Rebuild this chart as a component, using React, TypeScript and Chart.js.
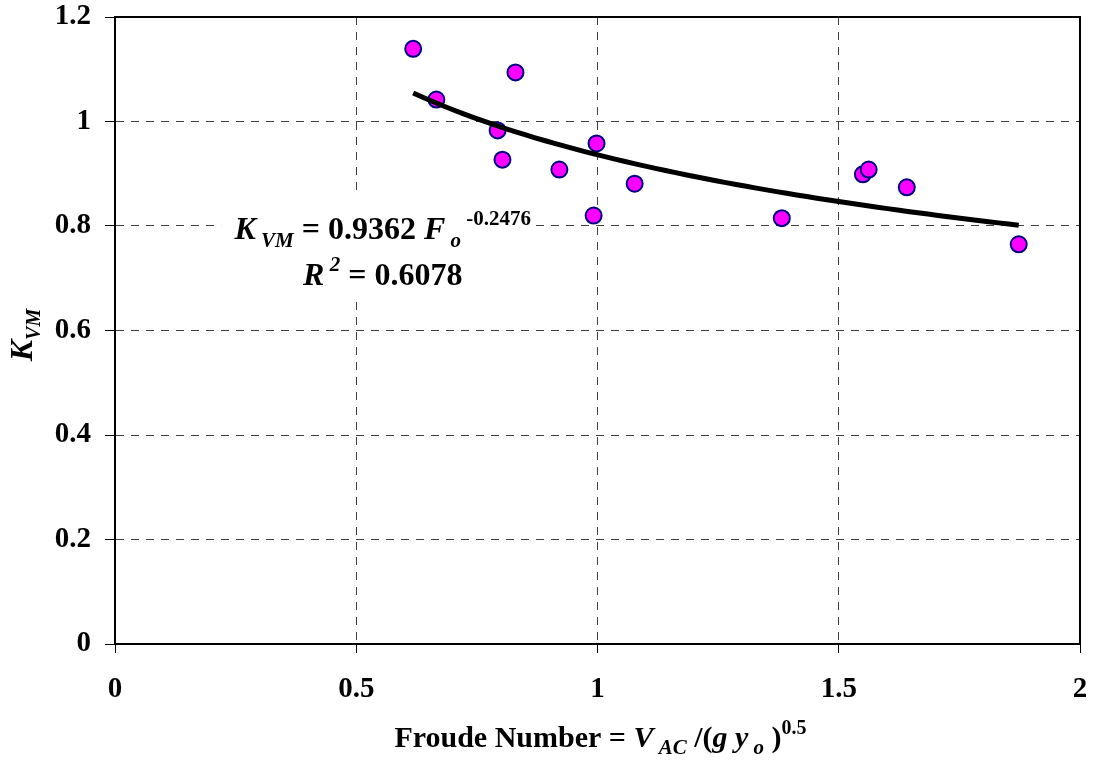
import React, { useEffect, useRef } from 'react';
import { Chart, registerables } from 'chart.js';

Chart.register(...registerables);

// ---- data ----
const froudeNumber = [0.618, 0.666, 0.793, 0.803, 0.830, 0.921, 0.998, 0.992, 1.077, 1.382, 1.550, 1.562, 1.641, 1.873];
const kvmValues = [1.139, 1.042, 0.983, 0.927, 1.094, 0.908, 0.958, 0.820, 0.881, 0.815, 0.899, 0.908, 0.874, 0.765];
const xTickValues = [0, 0.5, 1, 1.5, 2];
const yTickValues = [0, 0.2, 0.4, 0.6, 0.8, 1, 1.2];
const trendCoefficient = 0.9362;
const trendExponent = -0.2476;
const rSquared = 0.6078;

type Run = { t: string; size: number; italic?: boolean; dy?: number };
const FAMILY = '"Liberation Serif", "Times New Roman", serif';
const fontOf = (r: Run) => `${r.italic ? 'italic ' : ''}bold ${r.size}px ${FAMILY}`;

function drawRuns(ctx: CanvasRenderingContext2D, runs: Run[], cx: number, baseline: number) {
  const widths = runs.map((r) => {
    ctx.font = fontOf(r);
    return ctx.measureText(r.t).width;
  });
  const total = widths.reduce((a, b) => a + b, 0);
  let x = cx - total / 2;
  ctx.textAlign = 'left';
  ctx.textBaseline = 'alphabetic';
  ctx.fillStyle = '#000';
  runs.forEach((r, i) => {
    ctx.font = fontOf(r);
    ctx.fillText(r.t, x, baseline + (r.dy || 0));
    x += widths[i];
  });
}

const decorPlugin = {
  id: 'decor',
  beforeDatasetsDraw(chart: any) {
    const { ctx } = chart;
    const xs = chart.scales.x;
    const ys = chart.scales.y;
    // white box behind the trendline equation
    ctx.save();
    ctx.fillStyle = '#fff';
    const l = xs.getPixelForValue(0.22);
    const r = xs.getPixelForValue(0.865);
    const t = ys.getPixelForValue(0.86);
    const b = ys.getPixelForValue(0.66);
    ctx.fillRect(l, t, r - l, b - t);
    ctx.restore();
  },
  afterDraw(chart: any) {
    const { ctx, chartArea } = chart;
    const xs = chart.scales.x;
    const ys = chart.scales.y;
    ctx.save();
    // plot frame
    ctx.strokeStyle = '#000';
    ctx.lineWidth = 2;
    ctx.strokeRect(chartArea.left, chartArea.top, chartArea.right - chartArea.left, chartArea.bottom - chartArea.top);

    // equation
    const ex = xs.getPixelForValue(0.555);
    const ey = ys.getPixelForValue(0.775);
    drawRuns(ctx, [
      { t: 'K', size: 32, italic: true },
      { t: ' VM', size: 21, italic: true, dy: 8 },
      { t: ' = ' + trendCoefficient.toFixed(4) + ' ', size: 32 },
      { t: 'F', size: 32, italic: true },
      { t: ' o', size: 21, italic: true, dy: 8 },
      { t: ' ' + trendExponent.toFixed(4), size: 21, dy: -14 },
    ], ex, ey);
    const ey2 = ys.getPixelForValue(0.688);
    drawRuns(ctx, [
      { t: 'R', size: 32, italic: true },
      { t: ' 2', size: 21, italic: true, dy: -14 },
      { t: ' = ' + rSquared.toFixed(4), size: 32 },
    ], ex, ey2);

    // x axis title
    const xc = (chartArea.left + chartArea.right) / 2;
    drawRuns(ctx, [
      { t: 'Froude Number = ', size: 30 },
      { t: 'V', size: 30, italic: true },
      { t: ' AC', size: 21, italic: true, dy: 7 },
      { t: ' /(', size: 30 },
      { t: 'g y', size: 30, italic: true },
      { t: ' o', size: 21, italic: true, dy: 7 },
      { t: ' )', size: 30 },
      { t: '0.5', size: 20, dy: -13 },
    ], xc + 3, 747);

    // y axis title
    ctx.translate(32, 335);
    ctx.rotate(-Math.PI / 2);
    drawRuns(ctx, [
      { t: 'K', size: 32, italic: true },
      { t: 'VM', size: 20, italic: true, dy: 8 },
    ], 0, 0);
    ctx.restore();
  },
};

export default function App() {
  const ref = useRef<HTMLCanvasElement | null>(null);
  useEffect(() => {
    if (!ref.current) return;
    const xMin = Math.min(...froudeNumber);
    const xMax = Math.max(...froudeNumber);
    const trend: { x: number; y: number }[] = [];
    const n = 60;
    for (let i = 0; i <= n; i++) {
      const x = xMin + ((xMax - xMin) * i) / n;
      trend.push({ x, y: trendCoefficient * Math.pow(x, trendExponent) });
    }
    const tickFont = { family: FAMILY, size: 29, weight: 'bold' as const };
    const gridColor = '#404040';
    const chart = new Chart(ref.current, {
      type: 'scatter',
      data: {
        datasets: [
          {
            label: 'Power trend',
            type: 'line',
            data: trend,
            borderColor: '#000',
            borderWidth: 5,
            pointRadius: 0,
            fill: false,
            tension: 0,
            order: 0,
          } as any,
          {
            label: 'K_VM',
            data: froudeNumber.map((x, i) => ({ x, y: kvmValues[i] })),
            backgroundColor: '#FF00FF',
            borderColor: '#000080',
            borderWidth: 2,
            pointRadius: 8,
            pointHoverRadius: 8,
            order: 1,
          },
        ],
      },
      options: {
        animation: false,
        responsive: false,
        devicePixelRatio: 1,
        events: [],
        layout: { padding: { top: 17, right: 14, left: 0, bottom: 0 } },
        plugins: { legend: { display: false }, tooltip: { enabled: false }, title: { display: false } },
        scales: {
          x: {
            type: 'linear',
            min: 0,
            max: 2,
            afterBuildTicks: (s: any) => { s.ticks = xTickValues.map((v) => ({ value: v })); },
            afterFit: (s: any) => { s.height = 120; s.paddingLeft = 0; s.paddingRight = 0; },
            ticks: { color: '#000', font: tickFont, padding: 19, maxRotation: 0, callback: (v: any) => String(v) },
            grid: { color: gridColor, lineWidth: 1, tickLength: 9, tickColor: '#000', tickBorderDash: [] } as any,
            border: { display: true, color: '#000', width: 2, dash: [8, 7] },
          },
          y: {
            type: 'linear',
            min: 0,
            max: 1.2,
            afterBuildTicks: (s: any) => { s.ticks = yTickValues.map((v) => ({ value: v })); },
            afterFit: (s: any) => { s.width = 115; s.paddingTop = 0; s.paddingBottom = 0; },
            ticks: { color: '#000', font: tickFont, padding: 14, callback: (v: any) => String(v) },
            grid: { color: gridColor, lineWidth: 1, tickLength: 10, tickColor: '#000', tickBorderDash: [] } as any,
            border: { display: true, color: '#000', width: 2, dash: [8, 7] },
          },
        },
      },
      plugins: [decorPlugin],
    });
    return () => chart.destroy();
  }, []);
  return (
    <div style={{ position: 'absolute', left: 0, top: 0, width: 1094, height: 764, background: '#fff' }}>
      <canvas ref={ref} width={1094} height={764} style={{ display: 'block' }} />
    </div>
  );
}
